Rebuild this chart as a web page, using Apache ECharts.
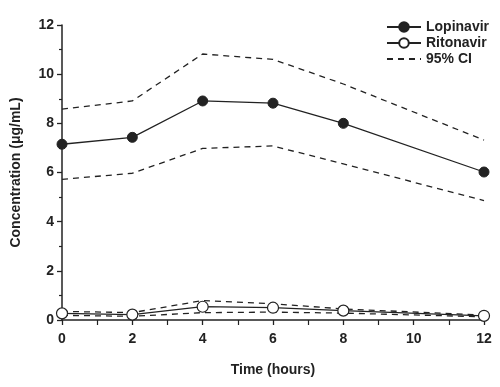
<!DOCTYPE html>
<html><head><meta charset="utf-8">
<script src="https://cdn.jsdelivr.net/npm/echarts@6/dist/echarts.min.js"></script>
<style>html,body{margin:0;padding:0;background:#fff}#c{width:500px;height:387px}</style>
</head><body><div id="c"></div>
<script>
var hours = [0, 2, 4, 6, 8, 12];
var lopinavir = [7.15, 7.43, 8.91, 8.82, 8.0, 6.02];
var lopinavirUpper = [8.58, 8.91, 10.82, 10.6, 9.6, 7.32];
var lopinavirLower = [5.72, 5.97, 6.98, 7.08, 6.35, 4.86];
var ritonavir = [0.27, 0.22, 0.54, 0.5, 0.38, 0.17];
var ritonavirUpper = [0.35, 0.3, 0.79, 0.66, 0.45, 0.2];
var ritonavirLower = [0.19, 0.15, 0.3, 0.32, 0.28, 0.13];
var xTicks = [0, 2, 4, 6, 8, 10, 12];
var yTicks = [0, 2, 4, 6, 8, 10, 12];

function pairs(v){ return hours.map(function(h,i){ return [h, v[i]]; }); }
var ink = '#222';
var font = 'Liberation Sans, Arial, sans-serif';
var dash = {color: ink, width: 1.3, type: [6, 5]};

var chart = echarts.init(document.getElementById('c'), null, {renderer: 'canvas'});
chart.setOption({
  animation: false,
  backgroundColor: '#fff',
  grid: {left: 62, right: 16, top: 25, bottom: 67},
  legend: {
    orient: 'vertical', right: 6, top: 15, itemGap: 2,
    itemWidth: 34, itemHeight: 12,
    textStyle: {fontFamily: font, fontWeight: 'bold', fontSize: 14, color: ink},
    data: ['Lopinavir', 'Ritonavir', {name: '95% CI', itemStyle: {opacity: 0}}]
  },
  xAxis: {
    type: 'value', min: 0, max: 12, interval: 2,
    name: 'Time (hours)', nameLocation: 'middle', nameGap: 43,
    nameTextStyle: {fontFamily: font, fontWeight: 'bold', fontSize: 14, color: ink},
    axisLine: {lineStyle: {color: ink, width: 1.5}},
    axisTick: {length: 5, lineStyle: {color: ink, width: 1.3}},
    minorTick: {show: true, splitNumber: 2, length: 5, lineStyle: {color: ink, width: 1.2}},
    axisLabel: {fontFamily: font, fontWeight: 'bold', fontSize: 14, color: ink, margin: 12,
      formatter: function(v){ return xTicks.indexOf(v) >= 0 ? String(v) : ''; }},
    splitLine: {show: false}
  },
  yAxis: {
    type: 'value', min: 0, max: 12, interval: 2,
    name: 'Concentration (\u03bcg/mL)', nameLocation: 'middle', nameGap: 39,
    nameTextStyle: {fontFamily: font, fontWeight: 'bold', fontSize: 14, color: ink},
    axisLine: {show: true, lineStyle: {color: ink, width: 1.5}},
    axisTick: {show: true, length: 5, lineStyle: {color: ink, width: 1.3}},
    minorTick: {show: true, splitNumber: 2, length: 3, lineStyle: {color: ink, width: 1.2}},
    axisLabel: {fontFamily: font, fontWeight: 'bold', fontSize: 14, color: ink, margin: 8,
      formatter: function(v){ return yTicks.indexOf(v) >= 0 ? String(v) : ''; }},
    splitLine: {show: false}
  },
  series: [
    {name: '95% CI', type: 'line', data: pairs(lopinavirUpper), symbol: 'none', lineStyle: dash, itemStyle: {color: ink}},
    {name: '95% CI', type: 'line', data: pairs(lopinavirLower), symbol: 'none', lineStyle: dash, itemStyle: {color: ink}},
    {name: '95% CI', type: 'line', data: pairs(ritonavirUpper), symbol: 'none', lineStyle: dash, itemStyle: {color: ink}},
    {name: '95% CI', type: 'line', data: pairs(ritonavirLower), symbol: 'none', lineStyle: dash, itemStyle: {color: ink}},
    {name: 'Lopinavir', type: 'line', data: pairs(lopinavir), symbol: 'circle', symbolSize: 10,
      lineStyle: {color: ink, width: 1.3}, itemStyle: {color: ink, borderColor: ink, borderWidth: 1}},
    {name: 'Ritonavir', type: 'line', data: pairs(ritonavir), symbol: 'circle', symbolSize: 11,
      lineStyle: {color: ink, width: 1.3}, itemStyle: {color: '#fff', borderColor: ink, borderWidth: 1.2}}
  ]
});
</script></body></html>
